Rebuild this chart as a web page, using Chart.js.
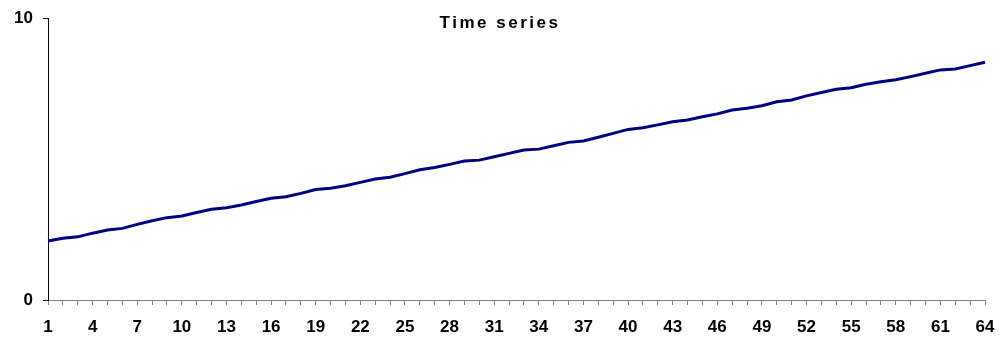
<!DOCTYPE html>
<html>
<head>
<meta charset="utf-8">
<title>Time series</title>
<script src="https://cdn.jsdelivr.net/npm/chart.js@4/dist/chart.umd.min.js"></script>
<style>
  html, body { margin: 0; padding: 0; background: #ffffff; }
  #wrap { width: 1000px; height: 339px; }
</style>
</head>
<body>
<div id="wrap"><canvas id="chart" width="1000" height="339"></canvas></div>
<script>
// Periods on the x axis
const categories = [
  '1','2','3','4','5','6','7','8','9','10','11','12','13','14','15','16',
  '17','18','19','20','21','22','23','24','25','26','27','28','29','30','31','32',
  '33','34','35','36','37','38','39','40','41','42','43','44','45','46','47','48',
  '49','50','51','52','53','54','55','56','57','58','59','60','61','62','63','64'
];

// Observed series value per period
const seriesValues = [
  2.09, 2.19, 2.24, 2.37, 2.48, 2.54, 2.68, 2.81, 2.92, 2.98, 3.10, 3.22, 3.27, 3.37, 3.49, 3.61,
  3.66, 3.78, 3.92, 3.96, 4.05, 4.17, 4.29, 4.35, 4.48, 4.62, 4.70, 4.81, 4.93, 4.96, 5.08, 5.20,
  5.32, 5.35, 5.47, 5.59, 5.64, 5.77, 5.91, 6.05, 6.11, 6.21, 6.32, 6.38, 6.50, 6.60, 6.74, 6.80,
  6.89, 7.03, 7.09, 7.24, 7.36, 7.47, 7.53, 7.65, 7.74, 7.81, 7.92, 8.04, 8.16, 8.19, 8.31, 8.43
];

// Period labels printed under the axis (every third period)
const xTickLabels = ['1','4','7','10','13','16','19','22','25','28','31','34','37','40','43','46','49','52','55','58','61','64'];

// Value labels printed beside the vertical axis
const yTickLabels = [0, 10];

const chartTitle = 'Time series';

const tickFont = { family: '"Liberation Sans", Arial, sans-serif', size: 17, weight: 'bold' };

// Title is drawn over the top of the plot area, centred on the canvas
const titleOverlay = {
  id: 'titleOverlay',
  afterDraw(chart) {
    const ctx = chart.ctx;
    ctx.save();
    ctx.font = 'bold 17px "Liberation Sans", Arial, sans-serif';
    if ('letterSpacing' in ctx) ctx.letterSpacing = '2.5px';
    ctx.fillStyle = '#000000';
    ctx.textAlign = 'center';
    ctx.textBaseline = 'middle';
    ctx.fillText(chartTitle, chart.width / 2, 23);
    ctx.restore();
  }
};

new Chart(document.getElementById('chart'), {
  type: 'line',
  data: {
    labels: categories,
    datasets: [{
      label: chartTitle,
      data: seriesValues,
      borderColor: '#000080',
      borderWidth: 3,
      pointRadius: 0,
      pointHoverRadius: 0,
      tension: 0,
      fill: false
    }]
  },
  options: {
    responsive: false,
    devicePixelRatio: 1,
    animation: false,
    events: [],
    layout: { padding: { left: 0, right: 15, top: 18, bottom: 0 } },
    plugins: {
      legend: { display: false },
      title: { display: false },
      tooltip: { enabled: false }
    },
    scales: {
      x: {
        type: 'category',
        offset: false,
        border: { display: true, color: '#808080', width: 1 },
        grid: { display: true, drawOnChartArea: false, drawTicks: true, tickLength: 5, color: '#808080' },
        ticks: {
          autoSkip: false,
          maxRotation: 0,
          minRotation: 0,
          padding: 12,
          color: '#000000',
          font: tickFont,
          callback(value) {
            const label = this.getLabelForValue(value);
            return xTickLabels.includes(label) ? label : '';
          }
        },
        afterFit(scale) {
          scale.height = 39;
          scale.paddingLeft = 0;
          scale.paddingRight = 0;
        }
      },
      y: {
        min: yTickLabels[0],
        max: yTickLabels[yTickLabels.length - 1],
        border: { display: true, color: '#000000', width: 1 },
        grid: { display: true, drawOnChartArea: false, drawTicks: true, tickLength: 5, color: '#000000' },
        ticks: {
          stepSize: yTickLabels[1] - yTickLabels[0],
          padding: 10,
          color: '#000000',
          font: tickFont
        },
        afterFit(scale) {
          scale.width = 48;
          scale.paddingTop = 0;
          scale.paddingBottom = 0;
        }
      }
    }
  },
  plugins: [titleOverlay]
});
</script>
</body>
</html>
